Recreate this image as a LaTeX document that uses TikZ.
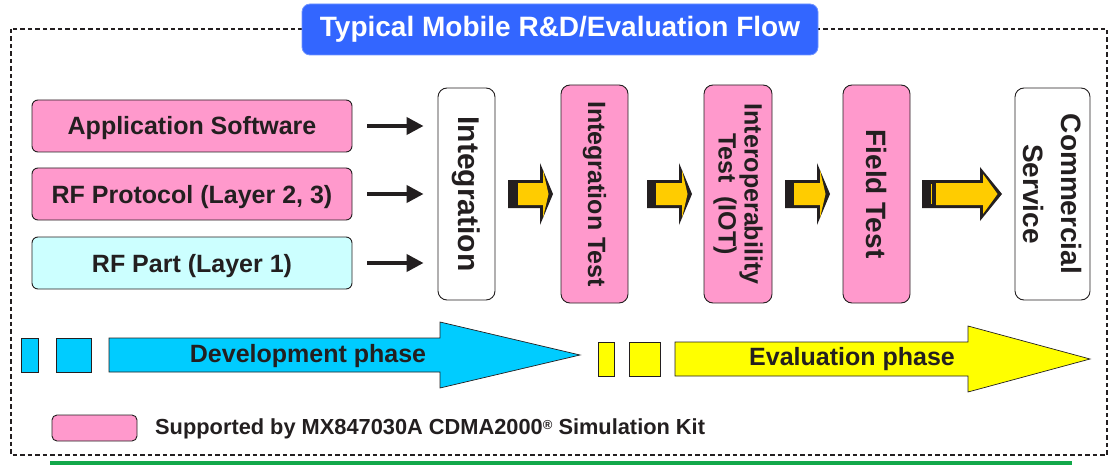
\documentclass[tikz,border=0pt]{standalone}
\usepackage{fontspec}
\setmainfont{Liberation Sans}
\usetikzlibrary{arrows.meta}
\definecolor{ink}{HTML}{231F20}
\definecolor{kitpink}{HTML}{FF99CC}
\definecolor{palecyan}{HTML}{CCFFFF}
\definecolor{titleblue}{HTML}{3366FF}
\definecolor{devcyan}{HTML}{00CCFF}
\definecolor{evalyellow}{HTML}{FFFF00}
\definecolor{gold}{HTML}{FFCC00}
\definecolor{rulegreen}{HTML}{12A84A}

% block arrow: tail x, tail-band end x, head base x, tip x, centre y, head half-height
\newcommand\fatarrow[6]{%
  \fill[ink] (#1,#5-14) -- (#3,#5-14) -- (#3,#5-#6) -- (#4,#5) -- (#3,#5+#6)
    -- (#3,#5+14) -- (#1,#5+14) -- cycle;
  \fill[gold] (#2,#5-11) -- (#3+3,#5-11) -- (#3+3,#5-#6+7) -- (#4-4.5,#5)
    -- (#3+3,#5+#6-7) -- (#3+3,#5+11) -- (#2,#5+11) -- cycle;
}

\tikzset{
  every node/.style={text=ink},
  inbox/.style={draw=ink, line width=0.9pt, rounded corners=6pt,
    minimum width=320pt, minimum height=52pt, inner sep=0pt,
    text height=18pt, text depth=0pt,
    font=\fontsize{25}{29}\selectfont\bfseries},
  stagebox/.style={draw=ink, line width=0.9pt, rounded corners=9pt,
    rotate=-90, inner sep=0pt, align=center},
  feed/.style={ink, line width=4pt, -{Triangle[length=17pt,width=17pt]}},
  phase/.style={draw=ink, line width=0.7pt},
  phasetext/.style={font=\fontsize{25}{30}\selectfont\bfseries},
}

\begin{document}
\begin{tikzpicture}[x=1pt,y=-1pt]
\useasboundingbox (0,0) rectangle (1115,473);

% dashed frame and title tab
\draw[ink, line width=1.3pt, dash pattern=on 4.5pt off 3pt] (11,29) rectangle (1107,455);
\node[draw=titleblue!70!white, line width=0.8pt, fill=titleblue, rounded corners=8pt,
      minimum width=516pt, minimum height=51pt, inner sep=0pt,
      font=\fontsize{28}{32}\selectfont\bfseries, text=white]
  (title) at (560,29.5) {Typical Mobile R\&D/Evaluation Flow};

% input blocks
\node[inbox, fill=kitpink]  (app)   at (192,126) {Application Software};
\node[inbox, fill=kitpink]  (proto) at (192,194) {RF Protocol (Layer 2, 3)};
\node[inbox, fill=palecyan] (part)  at (192,263) {RF Part (Layer 1)};

% flow stages (text runs top to bottom)
\node[stagebox, fill=white, minimum width=212pt, minimum height=57pt,
      font=\fontsize{30}{34}\selectfont\bfseries] (integ) at (466.5,194) {Integration};
\node[stagebox, fill=kitpink, minimum width=218pt, minimum height=67pt,
      font=\fontsize{25}{30}\selectfont\bfseries] (itest) at (594.5,194) {Integration Test};
\node[stagebox, fill=kitpink, minimum width=218pt, minimum height=68pt,
      font=\fontsize{25}{26}\selectfont\bfseries] (iot) at (738,194) {Interoperability\\Test\ \ (IOT)};
\node[stagebox, fill=kitpink, minimum width=218pt, minimum height=67pt,
      font=\fontsize{28}{32}\selectfont\bfseries] (field) at (876.5,194) {Field Test};
\node[stagebox, fill=white, minimum width=212pt, minimum height=75pt,
      font=\fontsize{28}{38}\selectfont\bfseries] (comm) at (1052.5,194) {Commercial\\Service};

% feeds into integration
\draw[feed] ([xshift=15pt]app.east)   -- ([xshift=-14pt]app.east -| integ.south);
\draw[feed] ([xshift=15pt]proto.east) -- ([xshift=-14pt]proto.east -| integ.south);
\draw[feed] ([xshift=15pt]part.east)  -- ([xshift=-14pt]part.east -| integ.south);

% block arrows between stages
\fatarrow{508}{518}{540}{553}{194}{31}
\fatarrow{647}{656}{679}{692}{194}{31}
\fatarrow{785}{794}{817}{830}{194}{31}
\fatarrow{922}{936}{980}{1002}{194}{27}
\fill[gold] (930.5,184) rectangle (932,204);

% development phase
\filldraw[phase, fill=devcyan] (21,338) rectangle (38,372);
\filldraw[phase, fill=devcyan] (56,338) rectangle (91,372);
\filldraw[phase, fill=devcyan] (109,338) -- (440,338) -- (440,322) -- (580,355)
  -- (440,388) -- (440,372) -- (109,372) -- cycle;
\node[phasetext] (dev) at (308,356) {Development phase};

% evaluation phase
\filldraw[phase, fill=evalyellow] (598,342) rectangle (614,376);
\filldraw[phase, fill=evalyellow] (629,342) rectangle (660,376);
\filldraw[phase, fill=evalyellow] (675,342) -- (968,342) -- (968,326) -- (1090,359)
  -- (968,392) -- (968,376) -- (675,376) -- cycle;
\node[phasetext] (eval) at (852,359) {Evaluation phase};

% legend
\node[draw=ink, line width=0.9pt, fill=kitpink, rounded corners=5pt,
      minimum width=85pt, minimum height=26pt, inner sep=0pt] (key) at (94.5,428) {};
\node[anchor=west, inner sep=0pt, font=\fontsize{21.8}{25}\selectfont\bfseries]
  (keytext) at (155,429) {Supported by MX847030A CDMA2000{\fontsize{13}{13}\selectfont\raisebox{5pt}{®}} Simulation Kit};

% bottom rule
\draw[rulegreen, line width=4.5pt] (50,463) -- (1072,463);
\end{tikzpicture}
\end{document}
